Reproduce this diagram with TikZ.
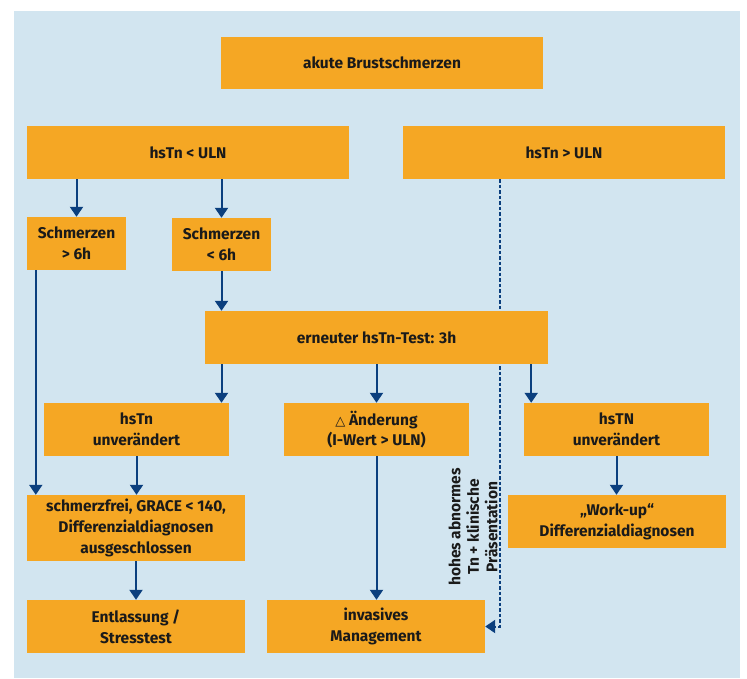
\documentclass[tikz,border=0pt]{standalone}
\usepackage{fontspec}
\setmainfont{Fira Sans}
\newfontfamily\symfont{DejaVu Sans}
\usetikzlibrary{arrows.meta,calc}
\definecolor{bgblue}{HTML}{D2E5F0}
\definecolor{boxorange}{HTML}{F5A724}
\definecolor{arrowblue}{HTML}{0B3F7E}
\definecolor{boxtext}{HTML}{1A1A1A}
\pgfdeclarelayer{back}
\pgfdeclarelayer{mid}
\pgfsetlayers{back,mid,main}

\begin{document}
\begin{tikzpicture}[x=1pt,y=-1pt,
  box/.style={rectangle,fill=boxorange,inner sep=2pt,align=center,
    text=boxtext,font=\bfseries\fontsize{15.5}{20.7}\selectfont},
  flow/.style={-{Triangle[length=10pt,width=13pt]},line width=2pt,arrowblue},
  hint/.style={-{Triangle[length=10pt,width=13pt]},line width=2pt,arrowblue,
    dash pattern=on 3.5pt off 2pt},
  note/.style={align=center,text=boxtext,font=\bfseries\fontsize{15.5}{18.5}\selectfont}
]
  \useasboundingbox (0,0) rectangle (747,678);
  \begin{pgfonlayer}{back}
    \fill[bgblue] (14,11) rectangle (740,678);
  \end{pgfonlayer}

  % top
  \node[box,minimum width=322pt,minimum height=52pt] (start) at (382,63) {akute Brustschmerzen};
  \node[box,minimum width=322pt,minimum height=53pt] (lowT) at (188,152.5) {hsTn < ULN};
  \node[box,minimum width=322pt,minimum height=53pt] (highT) at (564,152.5) {hsTn > ULN};

  % pain onset
  \node[box,minimum width=99pt,minimum height=53pt] (late) at (76.5,243.5) {Schmerzen\\> 6h};
  \node[box,minimum width=99pt,minimum height=53pt] (early) at (221.5,244.5) {Schmerzen\\< 6h};
  \node[box,minimum width=343pt,minimum height=53pt] (retest) at (376.5,337.5) {erneuter hsTn-Test: 3h};

  % after retest
  \node[box,minimum width=185pt,minimum height=53pt] (sameL) at (136.5,429.5) {hsTn\\unverändert};
  \node[box,minimum width=185pt,minimum height=53pt] (delta) at (376.5,429.5)
    {{\symfont\mdseries\fontsize{13}{13}\selectfont △}\ Änderung\\(I-Wert > ULN)};
  \node[box,minimum width=185pt,minimum height=53pt] (sameR) at (616.5,429.5) {hsTN\\unverändert};

  % outcomes
  \node[box,minimum width=218pt,minimum height=66pt] (free) at (136,528)
    {schmerzfrei, GRACE < 140,\\Differenzialdiagnosen\\ausgeschlossen};
  \node[box,minimum width=218pt,minimum height=53pt] (workup) at (617,521.5)
    {„Work-up“\\Differenzialdiagnosen};
  \node[box,minimum width=218pt,minimum height=53pt] (discharge) at (136,626.5) {Entlassung /\\Stresstest};
  \node[box,minimum width=218pt,minimum height=53pt] (invasive) at (376,626.5) {invasives\\Management};

  \node[note,rotate=90] (hintlabel) at (473,527) {hohes abnormes\\Tn + klinische\\Präsentation};

  \coordinate (lateout) at ($(late.south west)+(9,0)$);
  \coordinate (retestR) at ($(retest.south east)+(-17,0)$);
  \coordinate (dashtop) at ($(highT.south west)+(97,0)$);

  \draw[flow] (lowT.south -| late.north) -- (late.north);
  \draw[flow] (lowT.south -| early.north) -- (early.north);
  \draw[flow] (early.south) -- (early |- retest.north);
  \draw[flow] (lateout) -- (lateout |- free.north);
  \draw[flow] (retest.south -| early) -- (sameL.north -| early);
  \draw[flow] (retest.south -| delta) -- (delta.north);
  \draw[flow] (retestR) -- (retestR |- sameR.north);
  \draw[flow] (sameL.south) -- (sameL.south |- free.north);
  \draw[flow] (free.south) -- (discharge.north);
  \draw[flow] (delta.south) -- (delta.south |- invasive.north);
  \draw[flow] (sameR.south) -- (sameR.south |- workup.north);
  \begin{pgfonlayer}{mid}
    \draw[hint] (dashtop) |- (invasive.east);
  \end{pgfonlayer}
\end{tikzpicture}
\end{document}
